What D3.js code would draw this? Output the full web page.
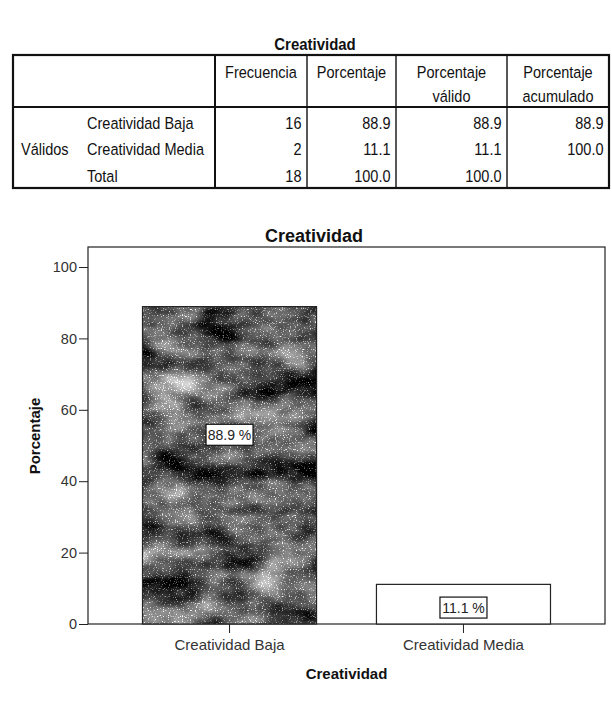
<!DOCTYPE html>
<html>
<head>
<meta charset="utf-8">
<script src="https://cdn.jsdelivr.net/npm/d3@7"></script>
<style>
  body { margin: 0; background: #fff; }
  svg { display: block; }
  .narrow { font-family: "Liberation Sans Narrow", "Arial Narrow", "Liberation Sans", sans-serif; }
  .arial { font-family: "Liberation Sans", Arial, sans-serif; }
</style>
</head>
<body>
<div id="chart"></div>
<script>
// table data
const rowGroup = "Válidos";
const rowLabels = ["Creatividad Baja", "Creatividad Media", "Total"];
const colHeaders = [["Frecuencia"], ["Porcentaje"], ["Porcentaje", "válido"], ["Porcentaje", "acumulado"]];
const frecuencia = [16, 2, 18];
const porcentaje = [88.9, 11.1, 100.0];
const porcentajeValido = [88.9, 11.1, 100.0];
const porcentajeAcumulado = [88.9, 100.0, null];

// chart data
const categories = ["Creatividad Baja", "Creatividad Media"];
const values = [88.9, 11.1];
const labelAt = [53, 4.6];   // where the value boxes sit
const yTicks = [0, 20, 40, 60, 80, 100];

var svg = d3.select("#chart").append("svg")
	.attr("width", 612)
	.attr("height", 719);

// ---------- table ----------
var colX = [13, 215, 307, 396, 507, 609];
var tTop = 55, tHead = 107, tBottom = 188;
var rowBase = [129, 155, 182];
var squeeze = 0.88; // no narrow font installed, so squash the regular one

var tbl = svg.append("g").attr("class", "narrow").attr("fill", "#111");

function ntext(px, py, str, anchor, size, bold) {
	tbl.append("text")
		.attr("transform", "translate(" + px + "," + py + ") scale(" + squeeze + ",1)")
		.attr("text-anchor", anchor)
		.attr("font-size", size)
		.attr("font-weight", bold ? "bold" : null)
		.text(str);
}

ntext(315, 50, "Creatividad", "middle", 17, true);

colHeaders.forEach(function (lines, i) {
	var cx = (colX[i + 1] + colX[i + 2]) / 2;
	lines.forEach(function (t, j) {
		ntext(cx, 78 + j * 24, t, "middle", 16.5);
	});
});

ntext(21, rowBase[1], rowGroup, "start", 16.5);
rowLabels.forEach(function (d, i) {
	ntext(87, rowBase[i], d, "start", 16.5);
});

var cols = [
	frecuencia.map(function (d) { return d == null ? "" : String(d); }),
	porcentaje.map(function (d) { return d == null ? "" : d.toFixed(1); }),
	porcentajeValido.map(function (d) { return d == null ? "" : d.toFixed(1); }),
	porcentajeAcumulado.map(function (d) { return d == null ? "" : d.toFixed(1); })
];
cols.forEach(function (col, c) {
	col.forEach(function (d, i) {
		if (d !== "") ntext(colX[c + 2] - 5.5, rowBase[i], d, "end", 16.5);
	});
});

// grid lines
var lines = tbl.append("g").attr("stroke", "#111").attr("fill", "none");
lines.append("rect")
	.attr("x", colX[0]).attr("y", tTop)
	.attr("width", colX[5] - colX[0]).attr("height", tBottom - tTop)
	.attr("stroke-width", 2.2);
lines.append("line").attr("x1", colX[0]).attr("x2", colX[5]).attr("y1", tHead).attr("y2", tHead).attr("stroke-width", 2);
lines.append("line").attr("x1", colX[1]).attr("x2", colX[1]).attr("y1", tTop).attr("y2", tBottom).attr("stroke-width", 2);
[2, 3, 4].forEach(function (i) {
	lines.append("line").attr("x1", colX[i]).attr("x2", colX[i]).attr("y1", tTop).attr("y2", tBottom).attr("stroke-width", 1.4);
});

// ---------- bar chart ----------
var frame = { left: 88, right: 605, top: 247, bottom: 624 };

// grainy dark texture of the first bar
var defs = svg.append("defs");
var f = defs.append("filter").attr("id", "grain")
	.attr("color-interpolation-filters", "sRGB")
	.attr("x", 0).attr("y", 0).attr("width", 1).attr("height", 1);
f.append("feTurbulence").attr("type", "fractalNoise")
	.attr("baseFrequency", "0.02 0.035").attr("numOctaves", 3).attr("seed", 7).attr("result", "blob");
f.append("feColorMatrix").attr("in", "blob").attr("type", "matrix")
	.attr("values", "1.25 0 0 0 -0.3  1.25 0 0 0 -0.3  1.25 0 0 0 -0.3  0 0 0 0 1")
	.attr("result", "blobg");
f.append("feTurbulence").attr("type", "fractalNoise")
	.attr("baseFrequency", "0.85").attr("numOctaves", 1).attr("seed", 3).attr("result", "fine");
f.append("feColorMatrix").attr("in", "fine").attr("type", "matrix")
	.attr("values", "5 0 0 0 -2.9  5 0 0 0 -2.9  5 0 0 0 -2.9  0 0 0 0 1")
	.attr("result", "fineg");
f.append("feComposite").attr("in", "blobg").attr("in2", "fineg")
	.attr("operator", "arithmetic").attr("k1", 0).attr("k2", 1).attr("k3", 0.6).attr("k4", 0)
	.attr("result", "mix");
f.append("feComposite").attr("in", "mix").attr("in2", "SourceGraphic").attr("operator", "in");

var x = d3.scaleBand()
	.domain(categories)
	.range([frame.left, frame.right])
	.paddingInner(0.256)
	.paddingOuter(0.233);

var y = d3.scaleLinear().domain([0, 100]).range([frame.bottom, 267]);

var g = svg.append("g").attr("class", "arial");

g.append("text")
	.attr("x", 314).attr("y", 242)
	.attr("text-anchor", "middle")
	.attr("font-size", 18).attr("font-weight", "bold")
	.attr("fill", "#111")
	.text("Creatividad");

g.append("rect")
	.attr("x", frame.left).attr("y", frame.top)
	.attr("width", frame.right - frame.left).attr("height", frame.bottom - frame.top)
	.attr("fill", "none").attr("stroke", "#222").attr("stroke-width", 1.2);

g.selectAll("rect.bar").data(values).enter().append("rect")
	.attr("class", "bar")
	.attr("x", function (d, i) { return x(categories[i]); })
	.attr("y", function (d) { return y(d); })
	.attr("width", x.bandwidth())
	.attr("height", function (d) { return y(0) - y(d); })
	.attr("fill", function (d, i) { return i === 0 ? "#555" : "#fff"; })
	.attr("filter", function (d, i) { return i === 0 ? "url(#grain)" : null; });

g.selectAll("rect.edge").data(values).enter().append("rect")
	.attr("class", "edge")
	.attr("x", function (d, i) { return x(categories[i]); })
	.attr("y", function (d) { return y(d); })
	.attr("width", x.bandwidth())
	.attr("height", function (d) { return y(0) - y(d); })
	.attr("fill", "none").attr("stroke", "#222").attr("stroke-width", 1.2);

// value boxes
var lab = g.selectAll("g.lab").data(values).enter().append("g")
	.attr("class", "lab")
	.attr("transform", function (d, i) {
		return "translate(" + (x(categories[i]) + x.bandwidth() / 2) + "," + y(labelAt[i]) + ")";
	});
lab.append("rect")
	.attr("x", -23.5).attr("y", -10.5).attr("width", 47).attr("height", 21)
	.attr("fill", "#fff").attr("stroke", "#111").attr("stroke-width", 1.2);
lab.append("text")
	.attr("text-anchor", "middle").attr("y", 5)
	.attr("font-size", 14).attr("fill", "#222")
	.text(function (d) { return d.toFixed(1) + " %"; });

// y axis
var yAxis = g.append("g")
	.attr("transform", "translate(" + frame.left + ",0)")
	.call(d3.axisLeft(y).tickValues(yTicks).tickSize(9).tickPadding(2));
yAxis.select(".domain").remove();
yAxis.selectAll("line").attr("stroke", "#222");
yAxis.selectAll("text").attr("font-size", 14.5).attr("fill", "#333")
	.attr("font-family", "Liberation Sans, Arial, sans-serif");

// x axis
var xAxis = g.append("g")
	.attr("transform", "translate(0," + frame.bottom + ")")
	.call(d3.axisBottom(x).tickSize(9).tickPadding(6));
xAxis.select(".domain").remove();
xAxis.selectAll("line").attr("stroke", "#222");
xAxis.selectAll("text").attr("font-size", 15).attr("fill", "#333")
	.attr("font-family", "Liberation Sans, Arial, sans-serif");

g.append("text")
	.attr("x", (frame.left + frame.right) / 2).attr("y", 679)
	.attr("text-anchor", "middle")
	.attr("font-size", 15).attr("font-weight", "bold").attr("fill", "#111")
	.text("Creatividad");

g.append("text")
	.attr("transform", "translate(40,436) rotate(-90)")
	.attr("text-anchor", "middle")
	.attr("font-size", 15).attr("font-weight", "bold").attr("fill", "#111")
	.text("Porcentaje");
</script>
</body>
</html>
